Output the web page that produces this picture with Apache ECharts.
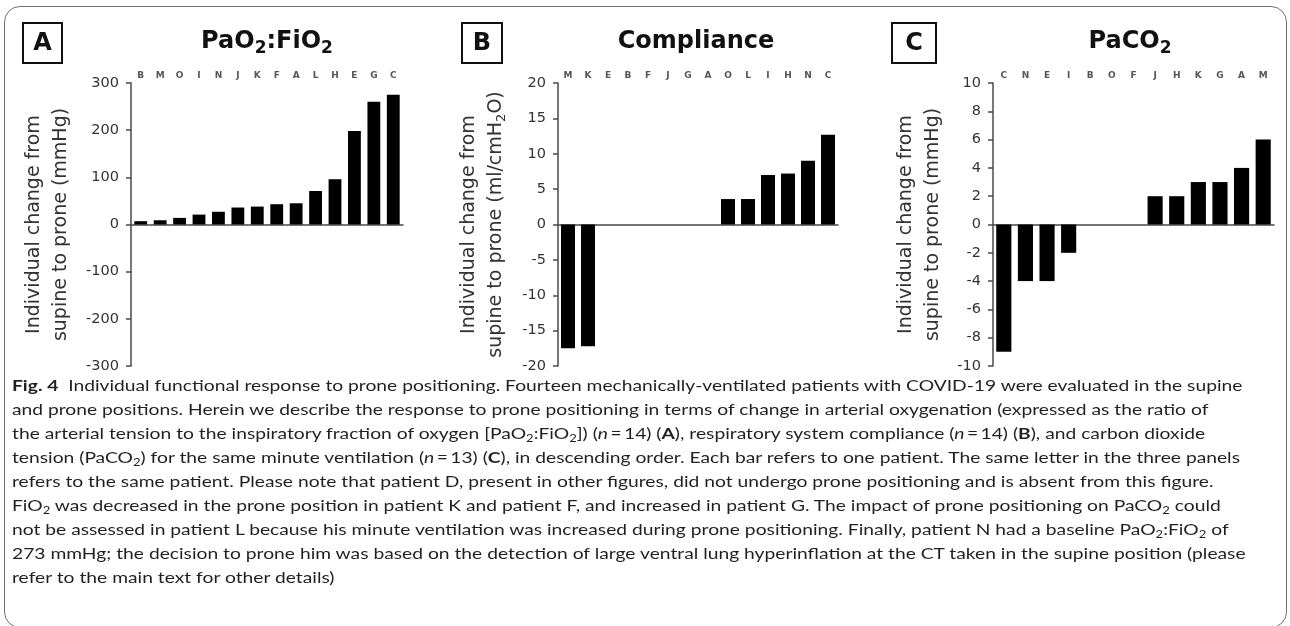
<!DOCTYPE html>
<html><head><meta charset="utf-8">
<script src="https://cdn.jsdelivr.net/npm/echarts@6/dist/echarts.min.js"></script>
<style>
html,body{margin:0;padding:0;background:#fff;width:1290px;height:626px;overflow:hidden;}
#frame{position:absolute;left:4px;top:6px;width:1283px;height:622px;border:1.5px solid #707070;border-radius:16px;box-sizing:border-box;}
#chart{position:absolute;left:0;top:0;width:1290px;height:626px;}
#cap{position:absolute;left:12px;top:373px;font-family:Lato,'Open Sans',sans-serif;font-size:16px;line-height:24px;color:#231f20;white-space:nowrap;transform-origin:0 0;}
#cap div{height:24px;}
#cap sub{font-size:0.68em;vertical-align:-0.3em;line-height:0;}
#l1{display:inline-block;}
</style></head>
<body>
<div id="frame"></div>
<div id="chart"></div>
<div id="cap">
<div><span id="l1"><b>Fig. 4</b>&nbsp; Individual functional response to prone positioning. Fourteen mechanically-ventilated patients with COVID-19 were evaluated in the supine</span></div>
<div>and prone positions. Herein we describe the response to prone positioning in terms of change in arterial oxygenation (expressed as the ratio of</div>
<div>the arterial tension to the inspiratory fraction of oxygen [PaO<sub>2</sub>:FiO<sub>2</sub>]) (<i>n</i>&thinsp;=&thinsp;14) (<b>A</b>), respiratory system compliance (<i>n</i>&thinsp;=&thinsp;14) (<b>B</b>), and carbon dioxide</div>
<div>tension (PaCO<sub>2</sub>) for the same minute ventilation (<i>n</i>&thinsp;=&thinsp;13) (<b>C</b>), in descending order. Each bar refers to one patient. The same letter in the three panels</div>
<div>refers to the same patient. Please note that patient D, present in other figures, did not undergo prone positioning and is absent from this figure.</div>
<div>FiO<sub>2</sub> was decreased in the prone position in patient K and patient F, and increased in patient G. The impact of prone positioning on PaCO<sub>2</sub> could</div>
<div>not be assessed in patient L because his minute ventilation was increased during prone positioning. Finally, patient N had a baseline PaO<sub>2</sub>:FiO<sub>2</sub> of</div>
<div>273 mmHg; the decision to prone him was based on the detection of large ventral lung hyperinflation at the CT taken in the supine position (please</div>
<div>refer to the main text for other details)</div>
</div>
<script>
// ---- data ----
const catsA = ['B','M','O','I','N','J','K','F','A','L','H','E','G','C'];
const valsA = [7, 9, 14, 21, 27, 36, 38, 43, 45, 71, 96, 198, 260, 275];
const ticksA = [-300, -200, -100, 0, 100, 200, 300];

const catsB = ['M','K','E','B','F','J','G','A','O','L','I','H','N','C'];
const valsB = [-17.5, -17.2, 0, 0, 0, 0, 0, 0, 3.6, 3.6, 7.0, 7.2, 9.0, 12.7];
const ticksB = [-20, -15, -10, -5, 0, 5, 10, 15, 20];

const catsC = ['C','N','E','I','B','O','F','J','H','K','G','A','M'];
const valsC = [-9, -4, -4, -2, 0, 0, 0, 2, 2, 3, 3, 4, 6];
const ticksC = [-10, -8, -6, -4, -2, 0, 2, 4, 6, 8, 10];

const panelLetters = ['A', 'B', 'C'];
const nameA = '{n|Individual change from}\n{n|supine to prone (mmHg)}';
const nameB = '{n|Individual change from}\n{n|supine to prone (ml/cmH}{s|2}{n|O)}';
const nameC = '{n|Individual change from}\n{n|supine to prone (mmHg)}';

// ---- layout ----
const FONT = 'DejaVu Sans';
const AXC = '#4a4a4a';
const panels = [
  {cats: catsA, vals: valsA, ticks: ticksA, name: nameA, left: 131, width: 272, gap: 56, barGap: '34%', box: [23, 39], title: '{a|PaO}{s|2}{a|:FiO}{s|2}', tx: 267},
  {cats: catsB, vals: valsB, ticks: ticksB, name: nameB, left: 558, width: 280, gap: 48, barGap: '30%', box: [462, 40], title: '{a|Compliance}', tx: 696},
  {cats: catsC, vals: valsC, ticks: ticksC, name: nameC, left: 993, width: 281, gap: 46, barGap: '30%', box: [892, 44], title: '{a|PaCO}{s|2}', tx: 1130}
];

const grid = [], xAxis = [], yAxis = [], series = [], graphic = [];
panels.forEach((p, i) => {
  grid.push({left: p.left, width: p.width, top: 83, height: 283, containLabel: false});
  xAxis.push({
    gridIndex: i, type: 'category', data: p.cats, position: 'top',
    axisLine: {show: false, onZero: false}, axisTick: {show: false},
    axisLabel: {interval: 0, margin: 3, fontSize: 9, fontWeight: 'bold', color: '#555', fontFamily: FONT}
  });
  xAxis.push({
    gridIndex: i, type: 'category', data: p.cats, position: 'bottom',
    axisLine: {show: true, onZero: true, lineStyle: {color: AXC, width: 1.5}},
    axisTick: {show: false}, axisLabel: {show: false}
  });
  const step = p.ticks[1] - p.ticks[0];
  yAxis.push({
    gridIndex: i, type: 'value',
    min: p.ticks[0], max: p.ticks[p.ticks.length - 1], interval: step,
    axisLine: {show: true, lineStyle: {color: AXC, width: 1.5}},
    axisTick: {show: true, length: 5, lineStyle: {color: AXC, width: 1.5}},
    splitLine: {show: false},
    axisLabel: {fontSize: 14.5, color: '#333', margin: 12, fontFamily: FONT},
    name: p.name, nameLocation: 'middle', nameRotate: 90, nameGap: p.gap,
    nameTextStyle: {
      fontFamily: FONT, fontSize: 19, color: '#333', lineHeight: 27,
      rich: {
        n: {fontFamily: FONT, fontSize: 19, color: '#333', lineHeight: 27},
        s: {fontFamily: FONT, fontSize: 13, color: '#333', padding: [11, 0, 0, 0]}
      }
    }
  });
  series.push({
    type: 'bar', xAxisIndex: 2 * i, yAxisIndex: i, data: p.vals,
    barCategoryGap: p.barGap, itemStyle: {color: '#000'}, silent: true
  });
  // panel letter box
  graphic.push({type: 'rect', shape: {x: p.box[0], y: 23, width: p.box[1], height: 40},
    style: {fill: 'none', stroke: '#111', lineWidth: 2}});
  graphic.push({type: 'text', x: p.box[0] + p.box[1] / 2, y: 44,
    style: {text: panelLetters[i], fill: '#111', font: 'bold 24px "DejaVu Sans"', align: 'center', verticalAlign: 'middle'}});
  // title
  graphic.push({type: 'text', x: p.tx, y: 42,
    style: {text: p.title, align: 'center', verticalAlign: 'middle',
      rich: {
        a: {fill: '#111', fontSize: 24, fontWeight: 'bold', fontFamily: FONT},
        s: {fill: '#111', fontSize: 17, fontWeight: 'bold', fontFamily: FONT, padding: [14, 0, 0, 0]}
      }}});
});

const chart = echarts.init(document.getElementById('chart'), null, {renderer: 'canvas'});
chart.setOption({animation: false, backgroundColor: 'transparent', grid, xAxis, yAxis, series, graphic});

// fit caption width to the reference line length (offsetWidth ignores transforms)
function fitCap() {
  const w = document.getElementById('l1').offsetWidth;
  if (w > 0) document.getElementById('cap').style.transform = 'scaleX(' + (1231 / w) + ')';
}
fitCap();
if (document.fonts && document.fonts.ready) { document.fonts.ready.then(fitCap); }
</script>
</body></html>
